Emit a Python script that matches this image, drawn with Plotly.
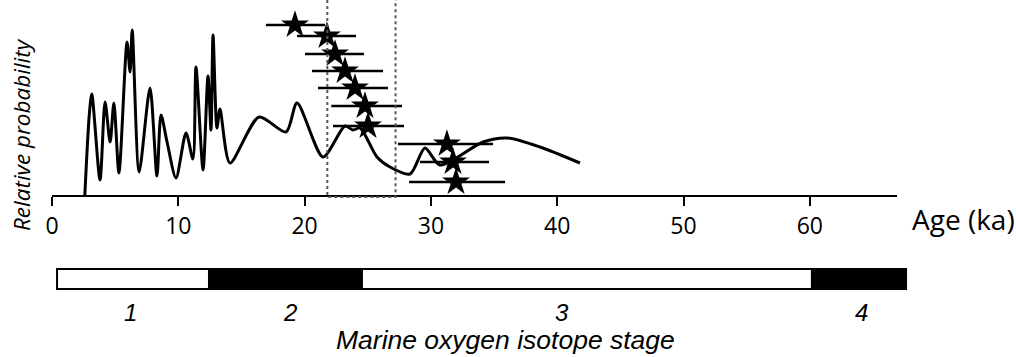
import plotly.graph_objects as go

# Probability curve (age in ka, relative probability in arbitrary units)
curve_age = [2.6, 2.95, 3.15, 3.8, 4.2, 4.6, 4.9, 5.3, 5.94, 6.18, 6.35, 6.9, 7.76, 8.31, 8.63,
             9.11, 9.82, 10.61, 11.16, 11.40, 11.96, 12.35, 12.59, 12.75, 13.06, 13.30, 14.09,
             16.39, 18.53, 19.40, 21.46, 23.20, 23.83, 24.39, 25.73, 26.76, 28.35, 29.53,
             30.72, 34.13, 36.03, 38.64, 41.80]
curve_prob = [0, 80, 101, 15, 93, 53, 92, 22, 153, 123, 165, 23, 107, 19, 80,
              53, 17, 62, 36, 128, 25, 119, 65, 160, 67, 86, 32,
              78, 63, 92, 38, 69, 65, 67, 38, 28, 21, 47,
              30, 53, 57, 48, 32]

# Dated samples (stars) with age uncertainty
star_age = [19.24, 21.77, 22.41, 23.20, 23.99, 24.78, 25.02, 31.27, 31.75, 31.99]
star_plus = [2.38, 2.30, 2.29, 3.01, 2.61, 2.93, 2.85, 3.65, 2.85, 3.88]
star_minus = [2.30, 2.37, 2.38, 2.61, 2.93, 2.67, 2.77, 3.88, 2.61, 3.72]
star_y = [170, 159, 141, 124, 107, 89, 69, 51, 33, 13]

# Dotted window
window = [21.8, 27.2]

# Marine isotope stage bar (schematic positions)
mis_bounds = [0.40, 12.43, 24.54, 60.17, 67.62]
mis_colors = ["white", "black", "white", "black"]
mis_labels = ["1", "2", "3", "4"]
mis_label_pos = [6.18, 18.84, 40.38, 64.13]

x_ticks = [0, 10, 20, 30, 40, 50, 60]

W, H = 1016, 357
ML, MR = 52, 100
PW = W - ML - MR
PXU = 12.63  # px per ka
axis_px = 195

fig = go.Figure()

fig.add_trace(go.Scatter(
    x=curve_age, y=curve_prob, mode="lines",
    line=dict(color="black", width=3, shape="spline", smoothing=0.75),
    hoverinfo="skip", showlegend=False, xaxis="x", yaxis="y"))

fig.add_trace(go.Scatter(
    x=star_age, y=star_y, mode="markers",
    marker=dict(symbol="star", size=21, color="black"),
    error_x=dict(type="data", symmetric=False, array=star_plus, arrayminus=star_minus,
                 thickness=2.5, width=0, color="black"),
    showlegend=False, xaxis="x", yaxis="y"))

widths = [mis_bounds[i + 1] - mis_bounds[i] for i in range(len(mis_colors))]
fig.add_trace(go.Bar(
    x=widths, base=mis_bounds[:-1], y=[0.5] * len(widths), width=1,
    orientation="h", marker=dict(color=mis_colors, line=dict(color="black", width=2)),
    showlegend=False, xaxis="x2", yaxis="y2", hoverinfo="skip"))

# dotted window lines
top = 1.0
bot = 1 - (axis_px + 2) / H
fig.add_shape(type="path", xref="x", yref="paper",
              path=f"M {window[0]},{top} L {window[0]},{bot} L {window[1]},{bot} L {window[1]},{top}",
              line=dict(color="#555555", width=2, dash="dot"), layer="above")

x_range_max = (897 - ML) / PXU
fig.update_layout(
    width=W, height=H,
    margin=dict(l=ML, r=MR, t=0, b=0),
    paper_bgcolor="white", plot_bgcolor="white",
    barmode="overlay",
    xaxis=dict(domain=[0, (897 - ML) / PW], range=[0, x_range_max], anchor="y",
               showline=True, linewidth=2, linecolor="black", ticks="outside",
               ticklen=9, tickwidth=2, tickcolor="black", tickvals=x_ticks,
               showgrid=False, zeroline=False,
               tickfont=dict(family="Open Sans", size=23, color="black")),
    yaxis=dict(domain=[1 - axis_px / H, 1], range=[0, axis_px], visible=False,
               showgrid=False, zeroline=False),
    xaxis2=dict(domain=[0, 1], range=[0, PW / PXU], anchor="y2", visible=False,
                showgrid=False, zeroline=False),
    yaxis2=dict(domain=[1 - 291 / H, 1 - 267 / H], range=[-0.1, 1.1], visible=False,
                showgrid=False, zeroline=False),
)

for lab, pos in zip(mis_labels, mis_label_pos):
    fig.add_annotation(x=pos, y=1 - 312 / H, xref="x2", yref="paper", text=f"<i>{lab}</i>",
                       showarrow=False, font=dict(family="Liberation Sans", size=24, color="black"),
                       xanchor="center", yanchor="middle")

fig.add_annotation(x=(506 - ML) / PW, y=1 - 340 / H, xref="paper", yref="paper",
                   text="<i>Marine oxygen isotope stage</i>", showarrow=False,
                   font=dict(family="Liberation Sans", size=26.5, color="black"),
                   xanchor="center", yanchor="middle")
fig.add_annotation(x=(910 - ML) / PW, y=1 - 219 / H, xref="paper", yref="paper",
                   text="Age (ka)", showarrow=False,
                   font=dict(family="Open Sans", size=28, color="black"),
                   xanchor="left", yanchor="middle")
fig.add_annotation(x=(21 - ML) / PW, y=1 - 135 / H, xref="paper", yref="paper",
                   text="<i>Relative probability</i>", showarrow=False, textangle=-90,
                   font=dict(family="Open Sans", size=22.5, color="black"),
                   xanchor="center", yanchor="middle")

fig.write_html("out.html")
